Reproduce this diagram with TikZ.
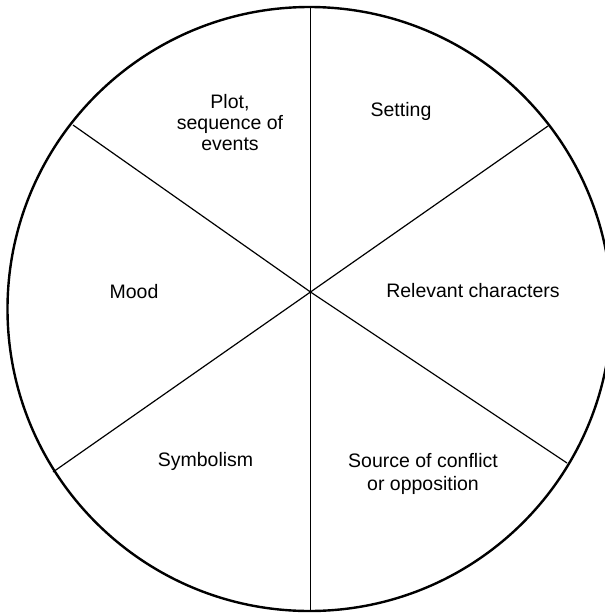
\documentclass[tikz,border=0pt]{standalone}
\usepackage{fontspec}
\setmainfont{Liberation Sans}
\begin{document}
\begin{tikzpicture}[x=1pt,y=-1pt,
  rim/.style={line width=2.4pt},
  spoke/.style={line width=1.2pt},
  lbl/.style={font=\fontsize{19.5}{21}\selectfont, inner sep=0pt, align=center}]
\useasboundingbox (0,0) rectangle (605,614);
% circle
\node[rim, draw, circle, minimum size=604pt, inner sep=0pt] (wheel) at (309.5,309) {};
% spokes
\coordinate (X) at (310.5,292);
\coordinate (top) at (310.5,7);
\coordinate (bot) at (310.5,611);
\coordinate (ul) at (73,125);
\coordinate (ur) at (548,126);
\coordinate (lr) at (567,463);
\coordinate (ll) at (53,472);
\draw[spoke] (top) -- (bot);
\draw[spoke] (ul) -- (X) -- (lr);
\draw[spoke] (ur) -- (X) -- (ll);
% labels
\node[lbl] (plot) at (230,123) {Plot,\\sequence of\\events};
\node[lbl, anchor=base] (setting) at (401,116) {Setting};
\node[lbl, anchor=base] (mood) at (134,298) {Mood};
\node[lbl, anchor=base] (chars) at (473,297) {Relevant characters};
\node[lbl, anchor=base] (symb) at (205.5,466) {Symbolism};
\node[lbl, font=\fontsize{19.5}{23}\selectfont] (source) at (423,473.5) {Source of conflict\\or opposition};
\end{tikzpicture}
\end{document}
